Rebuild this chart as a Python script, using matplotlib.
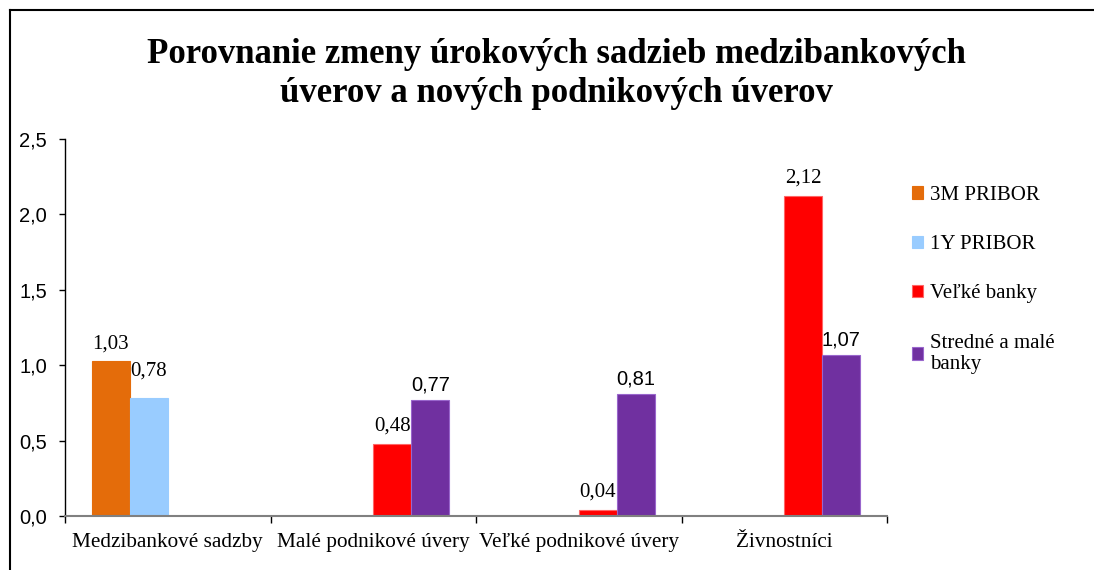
import numpy as np
import matplotlib
matplotlib.use("Agg")
import matplotlib.pyplot as plt
from matplotlib.lines import Line2D

categories = ["Medzibankové sadzby", "Malé podnikové úvery", "Veľké podnikové úvery", "Živnostníci"]
series_names = ["3M PRIBOR", "1Y PRIBOR", "Veľké banky", "Stredné a malé\nbanky"]
pribor_3m = [1.03, np.nan, np.nan, np.nan]
pribor_1y = [0.78, np.nan, np.nan, np.nan]
velke_banky = [np.nan, 0.48, 0.04, 2.12]
stredne_male = [np.nan, 0.77, 0.81, 1.07]
yticks = [0.0, 0.5, 1.0, 1.5, 2.0, 2.5]
title = "Porovnanie zmeny úrokových sadzieb medzibankových\núverov a nových podnikových úverov"

series = [pribor_3m, pribor_1y, velke_banky, stredne_male]
colors = ["#E46C0A", "#99CCFF", "#FF0000", "#7030A0"]
edges = ["#E46C0A", "#99CCFF", "#FF6666", "#9966CC"]
label_fonts = ["Liberation Serif", "Liberation Serif", "Liberation Serif", "Liberation Sans"]
label_sizes = [15, 15, 15, 14.5]
label_pads = [5, 13, 6, 4]

W, H = 1094, 570
fig = plt.figure(figsize=(W / 100, H / 100), dpi=100)
ax = fig.add_axes([65 / W, 1 - 516 / H, (887 - 65) / W, (516 - 139) / H])

x = np.arange(len(categories))
bw = 0.185
offsets = (np.arange(4) - 1.5) * bw
handles = []
for s, vals, c, ec, off, fnt, fs, pad in zip(series_names, series, colors, edges, offsets,
                                            label_fonts, label_sizes, label_pads):
    vals = np.array(vals, dtype=float)
    m = ~np.isnan(vals)
    bars = ax.bar(x[m] + off, vals[m], width=bw, color=c, edgecolor=ec, linewidth=0.8, label=s)
    handles.append(bars)
    ax.bar_label(bars, labels=[f"{v:.2f}".replace(".", ",") for v in vals[m]],
                 padding=pad, fontsize=fs, family=fnt, color="black")

ax.set_xlim(-0.5, len(categories) - 0.5)
ax.set_ylim(0, 2.5)
ax.set_yticks(yticks)
ax.set_yticklabels([f"{t:.1f}".replace(".", ",") for t in yticks], family="Liberation Sans", fontsize=14.5)
ax.tick_params(axis="y", length=4, width=1, pad=9, direction="out")

ax.set_xticks(np.arange(len(categories) + 1) - 0.5)
ax.set_xticklabels([])
ax.tick_params(axis="x", which="major", length=5, width=1)
ax.set_xticks(x, minor=True)
ax.set_xticklabels(categories, minor=True, family="Liberation Serif", fontsize=15.3)
ax.tick_params(axis="x", which="minor", length=0, pad=12)

for sp in ["top", "right"]:
    ax.spines[sp].set_visible(False)
ax.spines["bottom"].set_color("#808080")
ax.spines["bottom"].set_linewidth(1.5)
ax.spines["left"].set_color("black")
ax.spines["left"].set_linewidth(1)

fig.text(556 / W, 1 - 74 / H, title, ha="center", va="center", family="Liberation Serif",
         fontweight="bold", fontsize=25, linespacing=1.25)

leg = fig.legend(handles=handles, labels=series_names, loc="upper left",
                 bbox_to_anchor=(912 / W, 1 - 186 / H), frameon=False,
                 prop={"family": "Liberation Serif", "size": 15},
                 handlelength=0.55, handleheight=0.55, handletextpad=0.3,
                 labelspacing=1.45, borderpad=0, borderaxespad=0)

fig.add_artist(Line2D([10 / W, 10 / W], [0, 1 - 10 / H], color="black", lw=1.5, transform=fig.transFigure))
fig.add_artist(Line2D([10 / W, 1], [1 - 10 / H, 1 - 10 / H], color="black", lw=1.5, transform=fig.transFigure))

fig.savefig("out.png", dpi=100)
